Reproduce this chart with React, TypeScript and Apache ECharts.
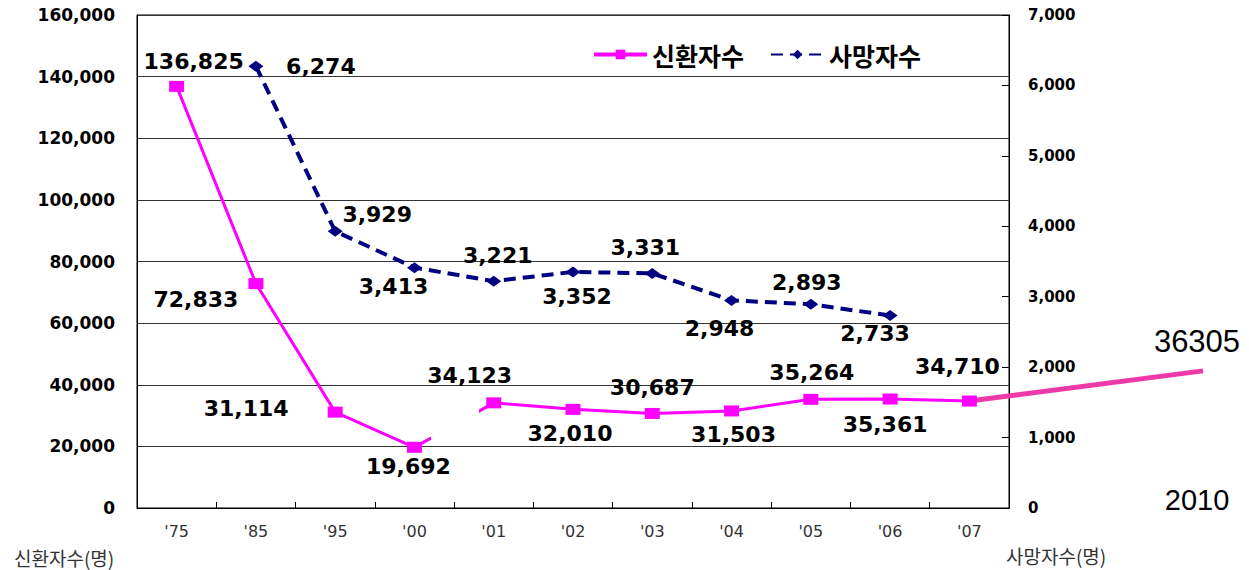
import React, { useEffect, useRef } from "react";
import * as echarts from "echarts";

const categories = ["'75", "'85", "'95", "'00", "'01", "'02", "'03", "'04", "'05", "'06", "'07"];
const newPatients = [136825, 72833, 31114, 19692, 34123, 32010, 30687, 31503, 35264, 35361, 34710];
const deaths = [null, 6274, 3929, 3413, 3221, 3352, 3331, 2948, 2893, 2733, null];
const leftTicks = { min: 0, max: 160000, interval: 20000 };
const rightTicks = { min: 0, max: 7000, interval: 1000 };
const extensionYears = [2007, 2010];
const extensionValues = [34710, 44500];
const extensionLabel = "36305";
const extensionYearLabel = "2010";

// label offsets (px) relative to each marker
const newPatientLabelOffsets = [
  [17, -25], [-60, 16], [-89, -4], [-6, 19], [-24, -27], [-3, 24],
  [0, -26], [2, 24], [1, -27], [-5, 25], [-12, -35],
];
const deathLabelOffsets = [
  [0, 0], [65, 0], [42, -17], [-21, 19], [4, -26], [4, 25],
  [-7, -26], [-12, 28], [-4, -22], [-15, 18], [0, 0],
];

const fmt = (v: number) => Number(v).toLocaleString("en-US");

export default function App() {
  const ref = useRef<HTMLDivElement>(null);
  useEffect(() => {
    if (!ref.current) return;
    const chart = echarts.init(ref.current, null, { renderer: "svg" });
    const labelFont = {
      fontFamily: "DejaVu Sans",
      fontWeight: "bold" as const,
      fontSize: 22,
      color: "#000",
    };
    const gridTop = 15;
    const gridBottom = 62;
    const gridLeft = 137;
    const gridRight = 240;
    const plotW = 1249 - gridLeft - gridRight;
    const lastCenter = gridLeft + (plotW / categories.length) * (categories.length - 0.5);
    const magenta = "#ff00ff";
    const clear = "rgba(255,0,255,0)";
    // gap between '00 and '01 (fractions of the '75..'07 span)
    const gapStart = 3.21 / (categories.length - 1);
    const gapEnd = 3.82 / (categories.length - 1);
    const gappedColor = new echarts.graphic.LinearGradient(0, 0, 1, 0, [
      { offset: 0, color: magenta },
      { offset: gapStart, color: magenta },
      { offset: gapStart, color: clear },
      { offset: gapEnd, color: clear },
      { offset: gapEnd, color: magenta },
      { offset: 1, color: magenta },
    ]);
    chart.setOption({
      animation: false,
      backgroundColor: "#fff",
      grid: [
        { left: gridLeft, right: gridRight, top: gridTop, bottom: gridBottom, show: true, borderColor: "#000", borderWidth: 1 },
        { left: lastCenter, right: 46, top: gridTop, bottom: gridBottom, show: false },
      ],
      legend: {
        left: 587,
        top: 37,
        itemWidth: 53,
        itemHeight: 12,
        itemGap: 26,
        data: [
          { name: "신환자수", itemStyle: { color: magenta }, lineStyle: { color: magenta, width: 4 } },
          { name: "사망자수" },
        ],
        textStyle: { fontFamily: "Noto Sans CJK KR", fontWeight: "bold", fontSize: 25, color: "#000" },
      },
      xAxis: [
        {
          type: "category",
          gridIndex: 0,
          data: categories,
          axisLine: { lineStyle: { color: "#000", width: 1 } },
          axisTick: { show: true, inside: true, length: 6, lineStyle: { color: "#000" } },
          axisLabel: { margin: 15, fontSize: 16, fontFamily: "DejaVu Sans", color: "#333" },
          splitLine: { show: false },
        },
        { type: "value", gridIndex: 1, min: extensionYears[0], max: extensionYears[1], show: false },
      ],
      yAxis: [
        {
          type: "value",
          gridIndex: 0,
          position: "left",
          ...leftTicks,
          axisLine: { show: true, lineStyle: { color: "#000" } },
          axisTick: { show: false },
          axisLabel: { formatter: fmt, margin: 22, fontSize: 17, fontWeight: "bold", fontFamily: "DejaVu Sans", color: "#000" },
          splitLine: { show: true, lineStyle: { color: "#333", width: 1 } },
        },
        {
          type: "value",
          gridIndex: 0,
          position: "right",
          ...rightTicks,
          axisLine: { show: true, lineStyle: { color: "#000" } },
          axisTick: { show: true, inside: true, length: 7, lineStyle: { color: "#000" } },
          axisLabel: { formatter: fmt, margin: 19, fontSize: 15, fontWeight: "bold", fontFamily: "DejaVu Sans", color: "#000" },
          splitLine: { show: false },
        },
        { type: "value", gridIndex: 1, ...leftTicks, show: false, splitLine: { show: false } },
      ],
      series: [
        {
          name: "신환자수",
          type: "line",
          xAxisIndex: 0,
          yAxisIndex: 0,
          z: 3,
          symbol: "rect",
          symbolSize: [15, 11],
          itemStyle: { color: magenta },
          lineStyle: { color: gappedColor, width: 3 },
          label: { show: true, position: "inside", align: "center", verticalAlign: "middle", formatter: (p: any) => fmt(p.value), ...labelFont },
          data: newPatients.map((v, i) => ({ value: v, label: { offset: newPatientLabelOffsets[i] } })),
        },
        {
          name: "사망자수",
          type: "line",
          xAxisIndex: 0,
          yAxisIndex: 1,
          z: 3,
          symbol: "diamond",
          symbolSize: [15, 11],
          itemStyle: { color: "#000080" },
          lineStyle: { color: "#000080", width: 4, type: [12, 7] },
          label: { show: true, position: "inside", align: "center", verticalAlign: "middle", formatter: (p: any) => fmt(p.value), ...labelFont },
          data: deaths.map((v, i) => (v == null ? null : { value: v, label: { offset: deathLabelOffsets[i] } })),
        },
        {
          name: "2010",
          type: "line",
          xAxisIndex: 1,
          yAxisIndex: 2,
          z: 1,
          symbol: "none",
          lineStyle: { color: "#ee3aa8", width: 5 },
          data: extensionYears.map((y, i) => [y, extensionValues[i]]),
        },
      ],
      graphic: [
        { type: "text", x: 14, y: 557, style: { text: "신환자수(명)", fontFamily: "Noto Sans CJK KR", fontSize: 19, fill: "#333", align: "left", verticalAlign: "middle" } },
        { type: "text", x: 1006, y: 555, style: { text: "사망자수(명)", fontFamily: "Noto Sans CJK KR", fontSize: 19, fill: "#333", align: "left", verticalAlign: "middle" } },
        { type: "text", x: 1197, y: 341, style: { text: extensionLabel, fontFamily: "Liberation Sans", fontSize: 31, fill: "#000", align: "center", verticalAlign: "middle" } },
        { type: "text", x: 1197, y: 500, style: { text: extensionYearLabel, fontFamily: "Liberation Sans", fontSize: 29, fill: "#000", align: "center", verticalAlign: "middle" } },
      ],
    });
    return () => chart.dispose();
  }, []);
  return <div ref={ref} style={{ position: "fixed", left: 0, top: 0, width: 1249, height: 570 }} />;
}
